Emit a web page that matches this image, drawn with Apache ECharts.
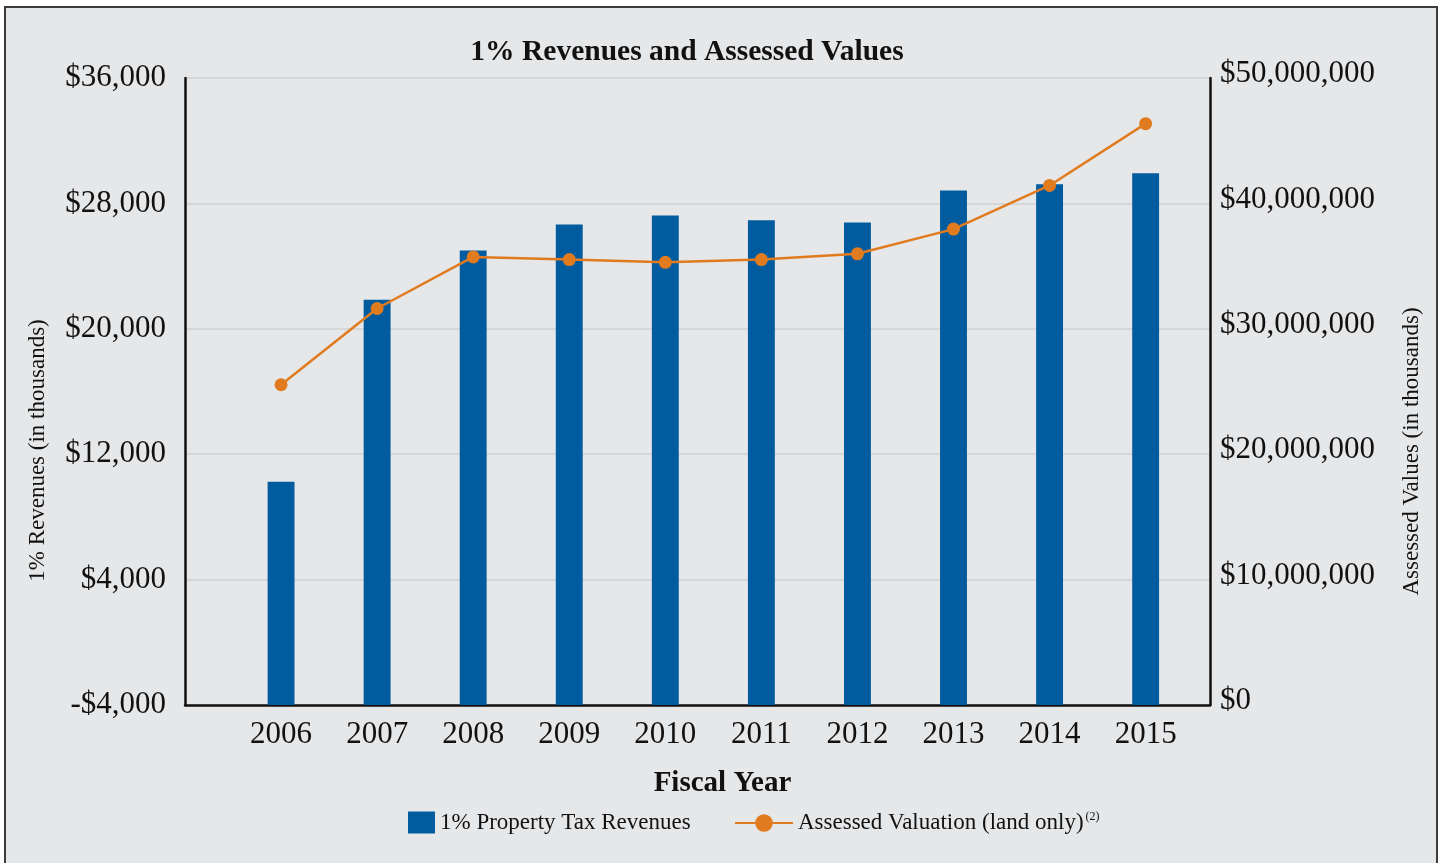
<!DOCTYPE html>
<html>
<head>
<meta charset="utf-8">
<script src="https://cdn.jsdelivr.net/npm/echarts@6/dist/echarts.min.js"></script>
<style>
  html, body { margin: 0; padding: 0; background: #fff; }
  #chart { width: 1442px; height: 863px; }
</style>
</head>
<body>
<div id="chart"></div>
<script>
// fiscal years
let years = [2006, 2007, 2008, 2009, 2010, 2011, 2012, 2013, 2014, 2015];
// 1% property tax revenues, in thousands of $
let revenues = [10250, 21850, 25000, 26650, 27230, 26920, 26780, 28830, 29220, 29920];
// assessed valuation (land only), in thousands of $
let assessed = [25540000, 31620000, 35730000, 35520000, 35300000, 35520000, 35980000, 37950000, 41430000, 46360000];
let leftTicks = [-4000, 36000];
let rightTicks = [0, 50000000];

let serif = '"Liberation Serif", "Times New Roman", serif';
let barColor = '#005c9e';
let lineColor = '#e07b20';

function money(v) {
    let s = '$' + Math.abs(v).toLocaleString('en-US');
    return v < 0 ? '-' + s : s;
}

let myChart = echarts.init(document.getElementById('chart'));
myChart.setOption({
    backgroundColor: '#fff',
    animation: false,
    graphic: [{
        type: 'rect',
        z: -10,
        shape: { x: 5, y: 7, width: 1432, height: 870 },
        style: { fill: '#e6e7e9', stroke: '#3c3c3c', lineWidth: 2 }
    }],
    title: {
        text: '1% Revenues and Assessed Values',
        left: 682,
        top: 32,
        textAlign: 'center',
        textStyle: { fontFamily: serif, fontSize: 29.5, fontWeight: 'bold', color: '#111' }
    },
    grid: { left: 185, right: 232, top: 78, bottom: 158 },
    legend: [{
        left: 403,
        top: 806,
        itemWidth: 27,
        itemHeight: 22,
        icon: 'rect',
        data: ['1% Property Tax Revenues'],
        textStyle: { fontFamily: serif, fontSize: 23, color: '#111' }
    }, {
        left: 729,
        top: 806,
        itemWidth: 58,
        itemHeight: 22,
        data: ['Assessed Valuation (land only)'],
        formatter: function (name) { return '{a|' + name + '}{s|(2)}'; },
        textStyle: {
            fontFamily: serif, fontSize: 23, color: '#111',
            rich: {
                a: { fontFamily: serif, fontSize: 23, color: '#111' },
                s: { fontFamily: serif, fontSize: 12, color: '#111', padding: [0, 0, 12, 2] }
            }
        }
    }],
    xAxis: {
        type: 'value',
        min: 2005,
        max: 2015.67,
        name: 'Fiscal Year',
        nameLocation: 'middle',
        nameGap: 64,
        nameTextStyle: { fontFamily: serif, fontSize: 29, fontWeight: 'bold', color: '#111', padding: [0, 0, 0, 50] },
        axisLine: { onZero: false, lineStyle: { color: '#111', width: 2.5 } },
        axisTick: { show: false },
        splitLine: { show: false },
        axisLabel: {
            customValues: years,
            formatter: function (v) { return String(v); },
            fontFamily: serif, fontSize: 31, color: '#111', margin: 14
        }
    },
    yAxis: [{
        type: 'value',
        min: leftTicks[0],
        max: leftTicks[1],
        interval: 8000,
        position: 'left',
        name: '1% Revenues (in thousands)',
        nameLocation: 'middle',
        nameRotate: 90,
        nameGap: 136,
        nameTextStyle: { fontFamily: serif, fontSize: 23, color: '#111', padding: [0, 118, 0, 0] },
        axisLine: { show: true, lineStyle: { color: '#111', width: 2.5 } },
        axisTick: { show: false },
        splitLine: { lineStyle: { color: '#cfd0d2', width: 1.5 } },
        axisLabel: { formatter: money, fontFamily: serif, fontSize: 31, color: '#111', margin: 19 }
    }, {
        type: 'value',
        min: rightTicks[0],
        max: rightTicks[1],
        interval: 10000000,
        position: 'right',
        name: 'Assessed Values (in thousands)',
        nameLocation: 'middle',
        nameRotate: 90,
        nameGap: 190,
        nameTextStyle: { fontFamily: serif, fontSize: 23, color: '#111', padding: [0, 120, 0, 0] },
        axisLine: { show: true, lineStyle: { color: '#111', width: 2.5 } },
        axisTick: { show: false },
        splitLine: { show: false },
        axisLabel: {
            formatter: money, fontFamily: serif, fontSize: 31, color: '#111', margin: 10,
            verticalAlign: 'bottom', lineHeight: 8
        }
    }],
    series: [{
        name: '1% Property Tax Revenues',
        type: 'custom',
        yAxisIndex: 0,
        itemStyle: { color: barColor },
        data: years.map(function (y, i) { return [y, revenues[i]]; }),
        encode: { x: 0, y: 1 },
        renderItem: function (params, api) {
            let top = api.coord([api.value(0), api.value(1)]);
            let base = api.coord([api.value(0), leftTicks[0]]);
            let w = api.size([1, 0])[0] * 0.28;
            return {
                type: 'rect',
                shape: { x: top[0] - w / 2, y: top[1], width: w, height: base[1] - top[1] },
                style: { fill: barColor }
            };
        }
    }, {
        name: 'Assessed Valuation (land only)',
        type: 'line',
        yAxisIndex: 1,
        data: years.map(function (y, i) { return [y, assessed[i]]; }),
        symbol: 'circle',
        symbolSize: 13,
        lineStyle: { color: lineColor, width: 2.5 },
        itemStyle: { color: lineColor, borderWidth: 0 },
        z: 5
    }]
});
</script>
</body>
</html>
